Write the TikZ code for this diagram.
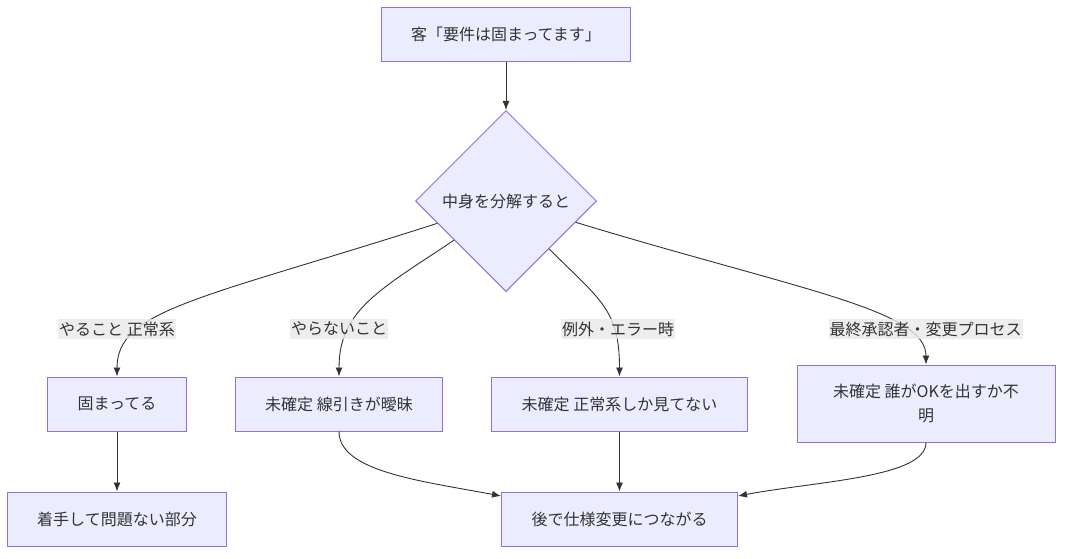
\documentclass[tikz,border=0pt]{standalone}
\usepackage{fontspec}
\setmainfont{Noto Sans CJK JP}
\usepackage{tikz}
\usetikzlibrary{arrows.meta,shapes.geometric}
\definecolor{boxfill}{HTML}{ECECFF}
\definecolor{boxline}{HTML}{9370DB}
\definecolor{ink}{HTML}{333333}
\definecolor{lblfill}{HTML}{E8E8E8}
\tikzstyle{box}=[rectangle,draw=boxline,fill=boxfill,line width=1pt,minimum height=54pt,inner xsep=30pt,text=ink,align=center]
\tikzstyle{decision}=[diamond,draw=boxline,fill=boxfill,line width=1pt,minimum width=181pt,minimum height=181pt,inner sep=0pt,text=ink]
\tikzstyle{edge} = [draw=ink,line width=0.9pt,-{Latex[length=9pt,width=7pt]}]
\tikzstyle{lbl}=[fill=lblfill,fill opacity=0.8,text opacity=1,text=ink,inner xsep=1pt,inner ysep=3pt]

\begin{document}
\begin{tikzpicture}[x=1pt,y=-1pt,font=\fontsize{16}{24}\selectfont]
    \useasboundingbox (0,0) rectangle (1071,558);
    % First we draw the boxes
    \node[box] (client) at (506,34.5) {客「要件は固まってます」};
    \node[decision] (split) at (506,201) {中身を分解すると};
    \foreach \pos/\name/\text in {{(117,404)/fixed/固まってる}, {(339,404)/vague/未確定 線引きが曖昧},
        {(619.5,404)/happy/未確定 正常系しか見てない}, {(117,519)/safe/着手して問題ない部分},
        {(619.5,519)/change/後で仕様変更につながる}}
       \node[box] (\name) at \pos {\text};
    \node[box,minimum width=258pt,minimum height=77pt] (approver) at (926,403.5) {未確定 誰がOKを出すか不\\明};
    % Straight connectors
    \foreach \source/ \dest in {client/split, fixed/safe, happy/change}
        \path[edge] (\source) -- (\dest);
    % Curved connectors out of the diamond
    \path[edge] (split.198) .. controls +(-237,76) and +(0,-67) .. (fixed.north);
    \path[edge] (split.217) .. controls +(-73,49) and +(0,-67) .. (vague.north);
    \path[edge] (split.-48) .. controls +(51,51) and +(0,-67) .. (happy.north);
    \path[edge] (split.-17) .. controls +(224,68) and +(0,-55) .. (approver.north);
    % Curved connectors into the last box
    \path[edge] (vague.south) .. controls +(0,40) and +(-80,-15) .. (change.169);
    \path[edge] (approver.south) .. controls +(0,35) and +(80,-15) .. (change.11);
    % Edge labels on top
    \foreach \pos/\name/\text in {{(117,329)/ldo/やること 正常系}, {(339,329)/ldont/やらないこと},
        {(618,329)/lerr/例外・エラー時}, {(925.5,329)/lapp/最終承認者・変更プロセス}}
       \node[lbl] (\name) at \pos {\text};
\end{tikzpicture}
\end{document}
